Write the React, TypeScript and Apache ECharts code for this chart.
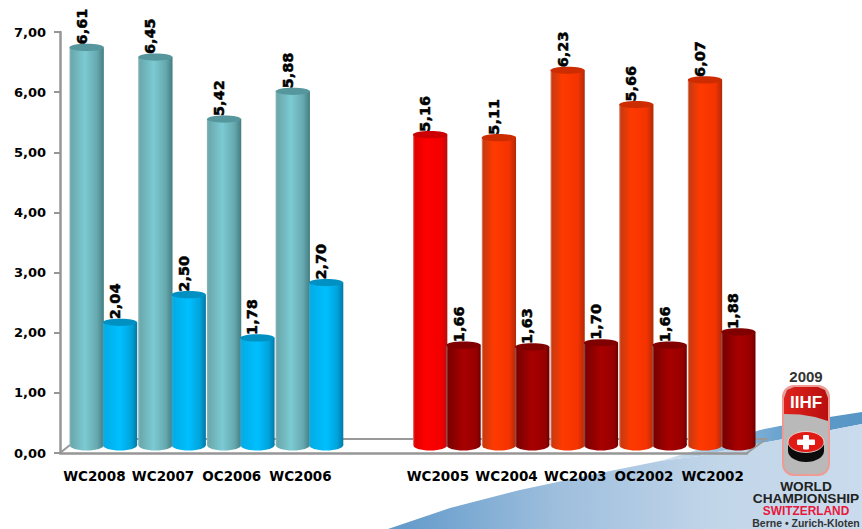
import React, { useEffect, useRef } from "react";
import * as echarts from "echarts";

const categories = ["WC2008", "WC2007", "OC2006", "WC2006", "", "WC2005", "WC2004", "WC2003", "OC2002", "WC2002"];
const tealValues = [6.61, 6.45, 5.42, 5.88, null, null, null, null, null, null];
const blueValues = [2.04, 2.5, 1.78, 2.7, null, null, null, null, null, null];
const redValues = [null, null, null, null, null, 5.16, 5.11, 6.23, 5.66, 6.07];
const darkRedValues = [null, null, null, null, null, 1.66, 1.63, 1.7, 1.66, 1.88];

const FONT = "'DejaVu Sans', sans-serif";
const ARIAL = "'Liberation Sans', Arial, sans-serif";
const DEPTH_X = 9.5;
const DEPTH_Y = 8;

const hGrad = (stops: [number, string][]) => ({
  type: "linear", x: 0, y: 0, x2: 1, y2: 0,
  colorStops: stops.map(([offset, color]) => ({ offset, color })),
});

const teal = { body: hGrad([[0, "#8fb5b8"], [0.06, "#6aa9ae"], [0.45, "#7ccad3"], [0.8, "#66a9af"], [1, "#437d82"]]), top: "#56979d" };
const blue = { body: hGrad([[0, "#2fa6d0"], [0.08, "#00aee8"], [0.5, "#00bfff"], [0.82, "#00a4dc"], [1, "#0079a8"]]), top: "#0090c2" };
const orange = { body: hGrad([[0, "#e0a090"], [0.05, "#c83a10"], [0.35, "#ff3a00"], [0.8, "#f53300"], [1, "#b02a08"]]), top: "#cc2c00" };
const pure = { body: hGrad([[0, "#e09090"], [0.05, "#e00000"], [0.4, "#ff0000"], [0.85, "#f00000"], [1, "#b01010"]]), top: "#cc0000" };
const dark = { body: hGrad([[0, "#a06060"], [0.06, "#7a0000"], [0.5, "#a80000"], [0.88, "#960000"], [1, "#6a0000"]]), top: "#800000" };

function cylinder(side: number, pick: (i: number) => { body: any; top: string }) {
  return (params: any, api: any) => {
    const i = api.value(0);
    const v = api.value(1);
    if (v == null || isNaN(v)) return null;
    const cat = api.size([1, 0])[0];
    const w = cat / 2;
    const [cx, y] = api.coord([i, v]);
    const [, y0] = api.coord([i, 0]);
    const left = cx + DEPTH_X - w + side * (w - 1);
    const top = y - DEPTH_Y;
    const base = y0 - DEPTH_Y;
    const mid = left + w / 2;
    const c = pick(i);
    return {
      type: "group",
      children: [
        { type: "ellipse", shape: { cx: mid, cy: base, rx: w / 2, ry: 5.5 }, style: { fill: c.body } },
        { type: "rect", shape: { x: left, y: top, width: w, height: base - top }, style: { fill: c.body } },
        { type: "ellipse", shape: { cx: mid, cy: top, rx: w / 2, ry: 3.6 }, style: { fill: c.top } },
        {
          type: "text",
          x: mid - 5,
          y: top - 3,
          rotation: Math.PI / 2,
          style: {
            text: v.toFixed(2).replace(".", ","),
            font: `bold 14.5px ${FONT}`,
            fill: "#000",
            stroke: "#000",
            lineWidth: 0.5,
            textAlign: "left",
            textVerticalAlign: "middle",
          },
        },
      ],
    };
  };
}

const toData = (values: (number | null)[]) => values.map((v, i) => [i, v]);

const series = [
  { name: "teal", data: toData(tealValues), renderItem: cylinder(0, () => teal) },
  { name: "blue", data: toData(blueValues), renderItem: cylinder(1, () => blue) },
  { name: "red", data: toData(redValues), renderItem: cylinder(0, (i) => (i === 5 ? pure : orange)) },
  { name: "darkRed", data: toData(darkRedValues), renderItem: cylinder(1, () => dark) },
].map((s) => ({ ...s, type: "custom", coordinateSystem: "cartesian2d", encode: { x: 0, y: 1 }, clip: false, silent: true }));

const bgZ = { z: -10 };
const logoZ = { z: 50 };

const swoosh = [
  {
    type: "polygon", ...bgZ,
    shape: { points: [[660, 461], [700, 449], [760, 430], [810, 420], [862, 412], [862, 424], [800, 436], [740, 447], [700, 456]] },
    style: { fill: { type: "linear", x: 0, y: 0, x2: 1, y2: 0, colorStops: [{ offset: 0, color: "#dbe7f2" }, { offset: 0.45, color: "#7fb0d6" }, { offset: 0.7, color: "#5b9ac9" }, { offset: 1, color: "#5896c6" }] } },
  },
  {
    type: "polygon", ...bgZ,
    shape: { points: [[388, 529], [450, 508], [520, 490], [600, 473], [660, 461], [700, 456], [740, 447], [800, 436], [862, 424], [862, 529]] },
    style: { fill: { type: "linear", x: 0, y: 0, x2: 1, y2: 0, colorStops: [{ offset: 0, color: "#5f98c9" }, { offset: 0.35, color: "#9dbedd" }, { offset: 0.7, color: "#c2d6e9" }, { offset: 1, color: "#c9dbec" }] } },
  },
];

const floor = [
  { type: "polyline", z: -1, shape: { points: [[60, 453], [70, 445]] }, style: { stroke: "#999", lineWidth: 2, fill: "none" } },
  { type: "polyline", z: -1, shape: { points: [[70, 439], [766, 439], [747, 453]] }, style: { stroke: "#999", lineWidth: 2, fill: "none" } },
];

const label = (text: string, y: number, font: string, fill: string, scaleX = 1) => ({
  type: "text", ...logoZ, x: 806, y, scaleX,
  style: { text, font, fill, textAlign: "center", textVerticalAlign: "middle" },
});

const logo = [
  { type: "rect", ...logoZ, shape: { x: 783, y: 386, width: 46, height: 89, r: 11 }, style: { fill: "#b9b9b9", stroke: "#f09a94", lineWidth: 2 } },
  {
    type: "polygon", ...logoZ,
    shape: { points: [[784, 414], [784, 398], [787, 390], [794, 387], [818, 387], [825, 390], [828, 398], [828, 421], [815, 417], [800, 414.5]] },
    style: { fill: { type: "linear", x: 0, y: 0, x2: 1, y2: 0, colorStops: [{ offset: 0, color: "#e0231c" }, { offset: 1, color: "#b80f0f" }] } },
  },
  { type: "ellipse", ...logoZ, shape: { cx: 806, cy: 451, rx: 18, ry: 11 }, style: { fill: "#0c0c0c" } },
  { type: "rect", ...logoZ, shape: { x: 788, y: 442, width: 36, height: 9 }, style: { fill: "#0c0c0c" } },
  { type: "ellipse", ...logoZ, shape: { cx: 806, cy: 442, rx: 18, ry: 10.5 }, style: { fill: "#e01a14", stroke: "#f0e8e8", lineWidth: 0.8 } },
  { type: "rect", ...logoZ, shape: { x: 797, y: 439.5, width: 18, height: 5.5, r: 1 }, style: { fill: "#fff" } },
  { type: "rect", ...logoZ, shape: { x: 803, y: 435, width: 6, height: 14.5, r: 1 }, style: { fill: "#fff" } },
  label("IIHF", 402, `bold 17px ${ARIAL}`, "#fff"),
  label("2009", 376, `bold 15px ${ARIAL}`, "#333"),
  label("WORLD", 486.4, `bold 11.9px ${ARIAL}`, "#222", 1.15),
  label("CHAMPIONSHIP", 498.4, `bold 11.9px ${ARIAL}`, "#222", 1.15),
  label("SWITZERLAND", 510.6, `bold 11.9px ${ARIAL}`, "#e8173c"),
  label("Berne • Zurich-Kloten", 523, `bold 10.5px ${ARIAL}`, "#333"),
];

export default function App() {
  const ref = useRef<HTMLDivElement>(null);
  useEffect(() => {
    const chart = echarts.init(ref.current!, undefined, { renderer: "svg" });
    chart.setOption({
      animation: false,
      backgroundColor: "#fff",
      grid: { left: 60, right: 115, top: 32, bottom: 76, containLabel: false },
      xAxis: {
        type: "category",
        data: categories,
        boundaryGap: true,
        axisLine: { lineStyle: { color: "#969696", width: 2.5 } },
        axisTick: { alignWithLabel: false, length: 5, lineStyle: { color: "#969696", width: 2 } },
        axisLabel: { interval: 0, color: "#000", fontFamily: FONT, fontWeight: "bold", fontSize: 13.5, margin: 16, hideOverlap: false },
      },
      yAxis: {
        type: "value",
        min: 0,
        max: 7,
        interval: 1,
        splitLine: { show: false },
        axisLine: { show: true, lineStyle: { color: "#969696", width: 2.5 } },
        axisTick: { show: true, length: 6, lineStyle: { color: "#969696", width: 2 } },
        axisLabel: { color: "#000", fontFamily: FONT, fontWeight: "bold", fontSize: 13, margin: 14, formatter: (v: number) => v.toFixed(2).replace(".", ",") },
      },
      graphic: [...swoosh, ...floor, ...logo],
      series,
    });
    return () => chart.dispose();
  }, []);
  return <div ref={ref} style={{ position: "absolute", left: 0, top: 0, width: 862, height: 529 }} />;
}
